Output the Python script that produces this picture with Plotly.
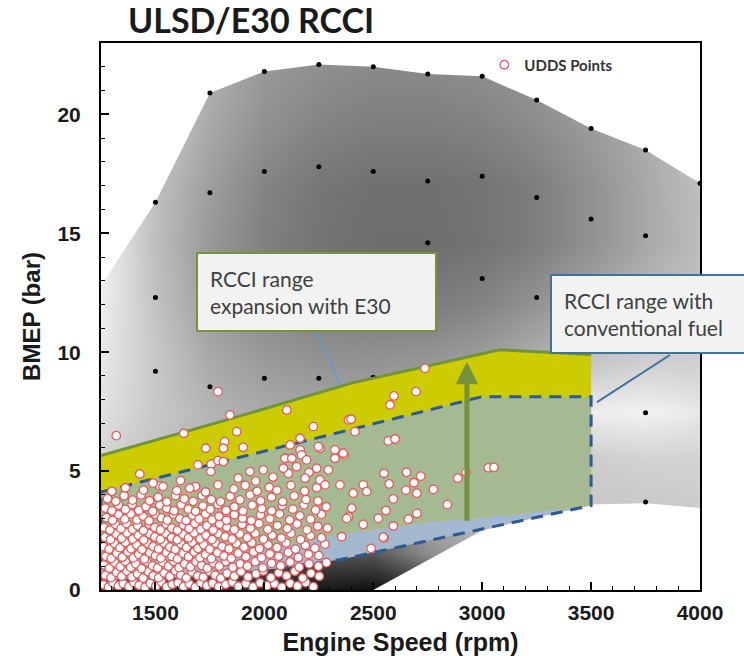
import plotly.graph_objects as go

# ---------------- engine map shading (gray level, 0 = black, 255 = white) ----------------
map_rpm = [1250, 1500, 1750, 2000, 2250, 2500, 2750, 3000, 3250, 3500, 3750, 4000]
map_bmep = [0, 1.5, 3.5, 5.5, 7.5, 9.5, 12, 14.5, 17, 19.5, 22.5]
map_shade = [
    [60, 55, 50, 40, 25, 15, 40, 120, 180, 200, 210, 215],
    [120, 110, 100, 90, 80, 85, 140, 175, 190, 200, 205, 210],
    [170, 160, 150, 140, 135, 150, 175, 190, 195, 200, 200, 205],
    [210, 195, 180, 170, 165, 168, 178, 188, 198, 205, 210, 210],
    [225, 200, 180, 170, 165, 165, 172, 185, 212, 238, 242, 232],
    [232, 200, 170, 155, 148, 148, 152, 160, 178, 198, 208, 208],
    [238, 195, 158, 138, 128, 124, 124, 132, 148, 168, 186, 196],
    [242, 190, 152, 128, 115, 110, 110, 115, 126, 145, 168, 188],
    [245, 192, 158, 132, 118, 112, 112, 116, 126, 145, 168, 190],
    [248, 205, 168, 145, 132, 126, 126, 130, 140, 155, 174, 196],
    [250, 220, 178, 155, 145, 140, 140, 145, 154, 168, 186, 204],
]

# engine operating envelope (outside is blank)
env_top_rpm = [1250, 1500, 1750, 2000, 2250, 2500, 2750, 3000, 3250, 3500, 3750, 4000]
env_top_bmep = [12.8, 16.3, 20.9, 21.8, 22.1, 22.0, 21.7, 21.6, 20.6, 19.4, 18.5, 17.1]
env_bot_rpm = [2500, 3000, 3500, 3750, 4000]
env_bot_bmep = [0.0, 2.5, 3.6, 3.65, 3.45]

# steady-state map test points
map_pt_rpm = [1750, 2000, 2250, 2500, 2750, 3000, 3250, 3500, 3750, 4000,
              2000, 2250, 2500, 2750, 3000, 3250, 3500, 3750,
              1500, 1750, 1500, 1500, 1750, 2000, 2250, 2500,
              2750, 3000, 3250, 3750, 3750]
map_pt_bmep = [20.9, 21.8, 22.1, 22.0, 21.7, 21.6, 20.6, 19.4, 18.5, 17.1,
               17.6, 17.8, 17.6, 17.2, 17.4, 16.5, 15.6, 14.9,
               16.3, 16.7, 12.3, 9.2, 8.55, 8.9, 8.9, 8.95,
               14.6, 13.1, 12.3, 7.45, 3.7]

# RCCI operating ranges
e30_top_rpm = [1250, 1800, 2400, 3080, 3500]
e30_top_bmep = [5.65, 7.08, 8.7, 10.1, 9.9]
e30_bot_rpm = [1250, 1800, 2050, 2350, 2750, 3100, 3500]
e30_bot_bmep = [1.45, 1.45, 1.8, 2.35, 2.85, 3.15, 3.55]
conv_top_rpm = [1250, 3000, 3500]
conv_top_bmep = [4.12, 8.13, 8.13]
conv_bot_rpm = [1250, 1750, 2100, 2350, 3500]
conv_bot_bmep = [0.35, 0.6, 0.95, 1.28, 3.55]

# UDDS drive-cycle operating points (rpm, bar)
udds = [
    (1262, 0.22), (1284, 0.12), (1305, 0.30), (1330, 0.18), (1352, 0.27), (1378, 0.14), (1401, 0.31),
    (1425, 0.2), (1452, 0.12), (1476, 0.28), (1502, 0.17), (1528, 0.33), (1551, 0.13), (1577, 0.24),
    (1604, 0.3), (1629, 0.15), (1655, 0.26), (1683, 0.12), (1708, 0.3), (1736, 0.19), (1762, 0.28),
    (1790, 0.14), (1822, 0.24), (1853, 0.33), (1881, 0.16), (1915, 0.27), (1948, 0.13), (1980, 0.3),
    (2012, 0.18), (2047, 0.26), (2080, 0.12), (2118, 0.28), (2152, 0.17), (2190, 0.31), (2225, 0.14),
    (1270, 0.62), (1296, 0.52), (1321, 0.74), (1345, 0.58), (1369, 0.79), (1392, 0.55), (1418, 0.68),
    (1443, 0.5), (1467, 0.77), (1490, 0.6), (1515, 0.52), (1540, 0.72), (1566, 0.57), (1591, 0.8),
    (1616, 0.63), (1642, 0.51), (1668, 0.75), (1694, 0.6), (1720, 0.54), (1747, 0.78), (1774, 0.62),
    (1800, 0.5), (1829, 0.7), (1862, 0.58), (1893, 0.77), (1925, 0.55), (1962, 0.68), (1995, 0.8),
    (2030, 0.52), (2066, 0.72), (2102, 0.6), (2140, 0.79), (2176, 0.5), (2214, 0.7), (2252, 0.58),
    (1264, 1.05), (1288, 0.92), (1313, 1.15), (1338, 0.98), (1362, 1.2), (1386, 0.95), (1410, 1.1),
    (1436, 0.9), (1461, 1.18), (1486, 1.02), (1510, 0.93), (1534, 1.16), (1559, 1.0), (1584, 1.21),
    (1608, 0.94), (1634, 1.1), (1660, 0.97), (1686, 1.19), (1712, 1.03), (1738, 0.91), (1766, 1.14),
    (1793, 1.0), (1823, 1.2), (1855, 0.95), (1889, 1.1), (1922, 1.0), (1958, 1.19), (1993, 0.93),
    (2033, 1.12), (2075, 1.02), (2118, 1.18), (2160, 0.96), (2205, 1.1), (2248, 1.0), (2285, 1.15),
    (1272, 1.42), (1297, 1.33), (1322, 1.55), (1348, 1.38), (1373, 1.6), (1398, 1.35), (1423, 1.5),
    (1449, 1.3), (1474, 1.57), (1500, 1.44), (1525, 1.34), (1550, 1.58), (1576, 1.41), (1601, 1.31),
    (1627, 1.54), (1652, 1.4), (1678, 1.6), (1704, 1.36), (1730, 1.5), (1757, 1.32), (1785, 1.57),
    (1815, 1.43), (1848, 1.33), (1880, 1.55), (1915, 1.4), (1950, 1.6), (1987, 1.36), (2025, 1.52),
    (2066, 1.42), (2110, 1.58), (2156, 1.37), (2202, 1.5), (2250, 1.45),
    (1262, 1.82), (1287, 1.72), (1312, 1.96), (1337, 1.78), (1362, 2.0), (1388, 1.74), (1413, 1.9),
    (1438, 1.7), (1464, 1.97), (1489, 1.83), (1514, 1.73), (1540, 1.98), (1566, 1.8), (1591, 1.71),
    (1617, 1.94), (1643, 1.79), (1669, 2.0), (1695, 1.75), (1722, 1.9), (1749, 1.72), (1777, 1.97),
    (1806, 1.83), (1838, 1.73), (1872, 1.96), (1906, 1.8), (1942, 1.99), (1978, 1.74), (2017, 1.9),
    (2058, 1.78), (2100, 1.98), (2143, 1.72), (2188, 1.88), (2232, 1.76), (2278, 1.93),
    (1268, 2.22), (1294, 2.12), (1319, 2.36), (1345, 2.18), (1370, 2.4), (1395, 2.14), (1421, 2.3),
    (1446, 2.1), (1472, 2.37), (1497, 2.23), (1523, 2.13), (1548, 2.38), (1574, 2.2), (1600, 2.11),
    (1626, 2.34), (1652, 2.19), (1678, 2.4), (1705, 2.15), (1732, 2.3), (1760, 2.12), (1789, 2.37),
    (1820, 2.24), (1852, 2.14), (1887, 2.36), (1921, 2.2), (1958, 2.39), (1996, 2.14), (2036, 2.3),
    (2078, 2.18), (2122, 2.38), (2166, 2.12), (2212, 2.28), (2262, 2.2),
    (1265, 2.63), (1291, 2.52), (1317, 2.76), (1342, 2.58), (1368, 2.8), (1394, 2.55), (1419, 2.7),
    (1445, 2.5), (1471, 2.77), (1497, 2.63), (1523, 2.53), (1549, 2.78), (1575, 2.6), (1601, 2.51),
    (1628, 2.74), (1654, 2.59), (1681, 2.8), (1708, 2.55), (1736, 2.7), (1765, 2.52), (1795, 2.77),
    (1828, 2.64), (1862, 2.54), (1898, 2.76), (1936, 2.6), (1975, 2.79), (2016, 2.55), (2060, 2.71),
    (2105, 2.58), (2150, 2.78), (2196, 2.53), (2245, 2.68), (2290, 2.6),
    (1275, 3.04), (1303, 2.93), (1331, 3.17), (1359, 2.98), (1387, 3.2), (1415, 2.95), (1443, 3.1),
    (1471, 2.91), (1499, 3.18), (1527, 3.03), (1555, 2.94), (1583, 3.19), (1612, 3.0), (1641, 2.92),
    (1670, 3.15), (1700, 2.99), (1730, 3.2), (1760, 2.95), (1792, 3.1), (1826, 2.93), (1862, 3.17),
    (1900, 3.02), (1940, 2.92), (1982, 3.16), (2025, 3.0), (2070, 3.2), (2116, 2.95), (2163, 3.12),
    (2212, 2.98), (2262, 3.18),
    (1270, 3.44), (1300, 3.33), (1331, 3.57), (1362, 3.39), (1393, 3.6), (1424, 3.35), (1456, 3.5),
    (1488, 3.31), (1520, 3.57), (1552, 3.43), (1585, 3.33), (1618, 3.58), (1651, 3.4), (1684, 3.31),
    (1718, 3.54), (1752, 3.39), (1787, 3.6), (1824, 3.35), (1862, 3.5), (1902, 3.32), (1944, 3.57),
    (1988, 3.42), (2034, 3.33), (2082, 3.56), (2131, 3.4), (2182, 3.58), (2235, 3.36), (2284, 3.5),
    (1280, 3.84), (1318, 3.73), (1356, 3.97), (1395, 3.78), (1434, 4.0), (1473, 3.75), (1512, 3.9),
    (1552, 3.71), (1592, 3.97), (1632, 3.83), (1673, 3.73), (1714, 3.98), (1756, 3.8), (1799, 3.72),
    (1843, 3.94), (1888, 3.79), (1935, 4.0), (1983, 3.75), (2033, 3.9), (2084, 3.72), (2137, 3.96),
    (2191, 3.8), (2246, 3.74),
    (1300, 4.15), (1362, 4.3), (1445, 4.2), (1520, 4.38), (1598, 4.18), (1684, 4.35), (1730, 4.12),
    (1860, 4.25), (1912, 4.4), (1967, 4.15), (2022, 4.32), (2058, 4.2), (2122, 4.4), (2185, 4.16),
    (2240, 4.3), (1615, 4.6), (1880, 4.7), (1960, 4.58), (2040, 4.75), (2110, 4.9), (2205, 4.95),
    (1320, 6.49), (1787, 8.34), (1630, 6.59), (1731, 5.96), (1818, 6.24), (1428, 4.88), (1695, 5.26),
    (1756, 5.29), (1787, 5.44), (1754, 4.98), (1489, 4.49), (1535, 4.35), (1657, 4.28), (1787, 4.42),
    (2103, 7.57), (1842, 7.36), (2225, 6.87), (1873, 6.66), (1812, 5.96), (1903, 6.0), (2164, 6.38),
    (2118, 6.1), (2255, 5.96), (2386, 7.15), (2324, 5.89), (2324, 5.54), (2164, 5.89), (2171, 5.68),
    (2095, 5.54), (2126, 5.54), (2194, 5.47), (1812, 5.4), (1934, 4.98), (1995, 5.05), (2087, 5.12),
    (2148, 5.19), (2240, 5.12), (2294, 5.05), (2187, 4.7), (2255, 4.63), (2347, 4.42), (2279, 4.42),
    (2737, 9.32), (2696, 8.34), (2595, 8.16), (2577, 7.78), (2398, 7.18), (2416, 6.66), (2569, 6.27),
    (2600, 6.35), (2366, 5.68), (2549, 4.91), (2653, 4.95), (2718, 4.79), (2687, 4.51), (2573, 4.46),
    (2454, 4.42), (2408, 4.07), (2650, 4.2), (2700, 4.07), (2776, 4.23), (2888, 4.7), (2926, 4.95),
    (3028, 5.14), (3054, 5.16), (2592, 3.83), (2840, 3.59), (2401, 3.44), (2386, 3.08), (2558, 3.34),
    (2523, 3.01), (2700, 3.22), (2661, 2.98), (2454, 2.76), (2592, 2.69), (2355, 2.24), (2549, 2.2),
    (2490, 1.75), (2470, 4.14), (2362, 5.75), (2248, 6.03), (2546, 2.22), (2378, 3.01),
]
udds_rpm = [p[0] for p in udds]
udds_bmep = [p[1] for p in udds]

X_RANGE = [1250, 4000]
Y_RANGE = [0, 23]

fig = go.Figure()

# gray engine map
fig.add_trace(go.Heatmap(
    x=map_rpm, y=map_bmep, z=map_shade, zmin=0, zmax=255, zsmooth="best",
    colorscale=[[0, "rgb(0,0,0)"], [1, "rgb(255,255,255)"]],
    showscale=False, hoverinfo="skip",
))

# blank out everything outside the operating envelope
fig.add_trace(go.Scatter(
    x=env_top_rpm + [X_RANGE[1], X_RANGE[0]],
    y=env_top_bmep + [Y_RANGE[1] + 1, Y_RANGE[1] + 1],
    fill="toself", fillcolor="white", mode="lines", line=dict(width=0),
    showlegend=False, hoverinfo="skip",
))
fig.add_trace(go.Scatter(
    x=env_bot_rpm + [X_RANGE[1], env_bot_rpm[0]],
    y=env_bot_bmep + [Y_RANGE[0] - 1, Y_RANGE[0] - 1],
    fill="toself", fillcolor="white", mode="lines", line=dict(width=0),
    showlegend=False, hoverinfo="skip",
))

# map test points
fig.add_trace(go.Scatter(
    x=map_pt_rpm, y=map_pt_bmep, mode="markers",
    marker=dict(size=5, color="black"), showlegend=False, hoverinfo="skip",
))

# conventional-fuel RCCI range (only the part below the E30 range stays blue)
fig.add_trace(go.Scatter(
    x=conv_top_rpm + conv_bot_rpm[::-1], y=conv_top_bmep + conv_bot_bmep[::-1],
    fill="toself", fillcolor="rgb(164,184,207)", mode="lines", line=dict(width=0),
    showlegend=False, hoverinfo="skip",
))
# E30 RCCI range
fig.add_trace(go.Scatter(
    x=e30_top_rpm + e30_bot_rpm[::-1], y=e30_top_bmep + e30_bot_bmep[::-1],
    fill="toself", fillcolor="rgb(205,204,0)", mode="lines", line=dict(width=0),
    showlegend=False, hoverinfo="skip",
))
# overlap of both ranges
fig.add_trace(go.Scatter(
    x=conv_top_rpm + e30_bot_rpm[::-1], y=conv_top_bmep + e30_bot_bmep[::-1],
    fill="toself", fillcolor="rgb(165,185,146)", mode="lines", line=dict(width=0),
    showlegend=False, hoverinfo="skip",
))
# dashed outline of the conventional range
fig.add_trace(go.Scatter(
    x=conv_top_rpm + conv_bot_rpm[::-1] + [conv_top_rpm[0]],
    y=conv_top_bmep + conv_bot_bmep[::-1] + [conv_top_bmep[0]],
    mode="lines", line=dict(color="rgb(47,88,150)", width=3, dash="12px,8px"),
    showlegend=False, hoverinfo="skip",
))
# upper limit with E30
fig.add_trace(go.Scatter(
    x=e30_top_rpm, y=e30_top_bmep, mode="lines",
    line=dict(color="rgb(112,148,58)", width=3),
    showlegend=False, hoverinfo="skip",
))

# UDDS points
fig.add_trace(go.Scatter(
    x=udds_rpm, y=udds_bmep, mode="markers", name="UDDS Points",
    marker=dict(size=8.5, color="white", line=dict(color="rgb(228,92,92)", width=1.3)),
    hoverinfo="skip",
))

# load-expansion arrow
ARROW_RPM = 2930
ARROW_FROM = 2.85
ARROW_TO = 9.6
fig.add_annotation(
    x=ARROW_RPM, y=ARROW_TO, ax=ARROW_RPM, ay=ARROW_FROM, xref="x", yref="y",
    axref="x", ayref="y", text="", showarrow=True, arrowhead=2, arrowsize=0.9,
    arrowwidth=5, arrowcolor="rgb(118,146,60)", standoff=0,
)

# callout leader lines
fig.add_shape(type="line", xref="x", yref="y", x0=2242, y0=10.85, x1=2347, y1=8.66,
              line=dict(color="rgb(91,155,213)", width=1.5), layer="above")
fig.add_shape(type="line", xref="x", yref="y", x0=3862, y0=9.88, x1=3527, y1=7.9,
              line=dict(color="rgb(65,113,156)", width=2), layer="above")

box_font = dict(family="Lato", size=21, color="#404040")
fig.add_annotation(
    x=1686, y=14.2, xref="x", yref="y", xanchor="left", yanchor="top",
    text="RCCI range<br>expansion with E30", align="left", showarrow=False,
    font=box_font, bgcolor="#f2f2f2", bordercolor="rgb(119,147,60)", borderwidth=2,
    borderpad=12, width=213,
)
fig.add_annotation(
    x=3311, y=13.3, xref="x", yref="y", xanchor="left", yanchor="top",
    text="RCCI range with<br>conventional fuel", align="left", showarrow=False,
    font=box_font, bgcolor="#f2f2f2", bordercolor="rgb(65,113,156)", borderwidth=2,
    borderpad=12, width=213,
)

axis_common = dict(
    showline=True, linecolor="black", linewidth=2, mirror=True,
    showgrid=False, zeroline=False, ticks="inside", ticklen=8, tickwidth=2,
    tickcolor="black", automargin=False,
    tickfont=dict(family="Liberation Sans", size=21, color="#1a1a1a", weight="bold"),
)

fig.update_layout(
    width=744, height=656,
    margin=dict(l=101, r=44, t=43, b=66, autoexpand=False),
    paper_bgcolor="white", plot_bgcolor="white",
    title=dict(
        text="ULSD/E30 RCCI", xref="container", yref="container",
        x=128 / 744, xanchor="left", y=1 - 21 / 656, yanchor="middle",
        font=dict(family="Lato", size=34, color="#1a1a1a", weight="bold"),
    ),
    xaxis=dict(
        range=X_RANGE, tickvals=[1500, 2000, 2500, 3000, 3500, 4000],
        minor=dict(dtick=100, ticks="inside", ticklen=4, tickwidth=1, tickcolor="black"),
        ticklabelstandoff=3,
        title=dict(text="Engine Speed (rpm)", standoff=17,
                   font=dict(family="Liberation Sans", size=25, color="#1a1a1a", weight="bold")),
        **axis_common,
    ),
    yaxis=dict(
        range=Y_RANGE, tickvals=[0, 5, 10, 15, 20],
        minor=dict(dtick=1, ticks="inside", ticklen=4, tickwidth=1, tickcolor="black"),
        ticklabelstandoff=14,
        title=dict(text="BMEP (bar)", standoff=10,
                   font=dict(family="Liberation Sans", size=24, color="#1a1a1a", weight="bold")),
        **axis_common,
    ),
    legend=dict(
        x=0.64, y=0.99, xanchor="left", yanchor="top", bgcolor="rgba(0,0,0,0)",
        font=dict(family="Lato", size=15, color="#333333", weight="bold"),
        itemwidth=30,
    ),
    showlegend=True,
)

fig.write_html("out.html")
